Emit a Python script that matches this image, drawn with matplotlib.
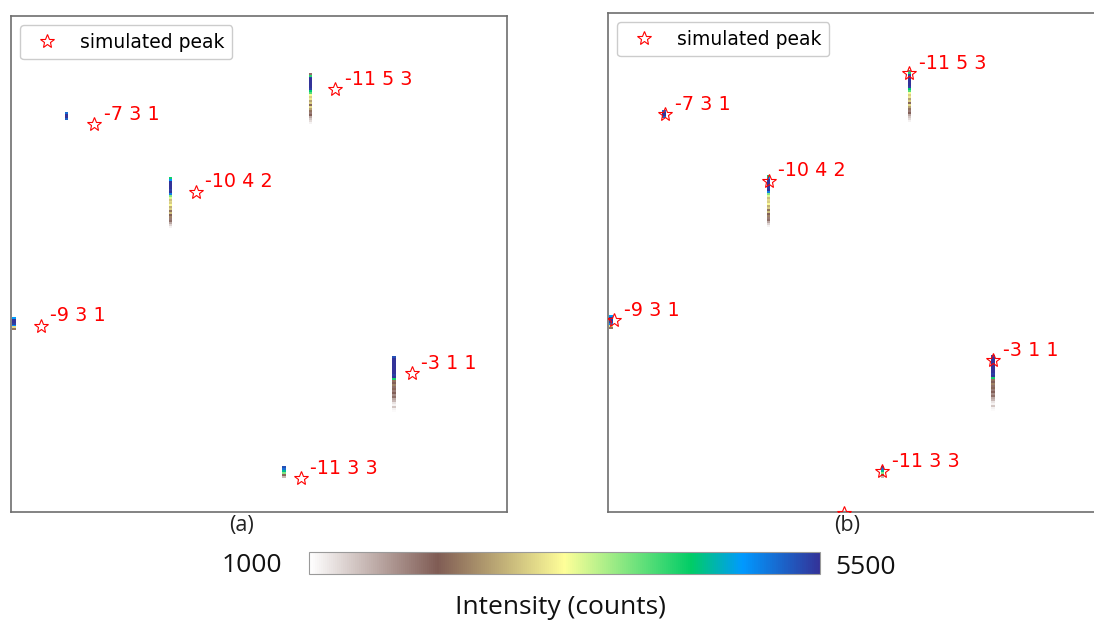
import numpy as np
import matplotlib
matplotlib.use("Agg")
import matplotlib.pyplot as plt
from matplotlib.colors import Normalize
from matplotlib.cm import ScalarMappable

# ---------------- data ----------------
peak_labels = ["-7 3 1", "-11 5 3", "-10 4 2", "-9 3 1", "-3 1 1", "-11 3 3"]

# simulated peak positions (detector pixel coords, y downward)
peaks_a_x = [84, 327, 186, 30, 404, 292]
peaks_a_y = [109, 74, 177, 312, 360, 466]
peaks_b_x = [57, 302, 161, 6, 386, 275, 236]
peaks_b_y = [101, 60, 168, 308, 348, 459, 501]
peaks_b_labels = peak_labels + [""]

# measured streaks: column x, top row y, intensities every 2 rows
streak_x = [56, 302, 161, 3, 386, 275]
streak_y0 = [97, 57, 162, 303, 343, 454]
streak_vals = [
    [5100, 5500, 5500, 5200],
    [2000, 4200, 5400, 5500, 5500, 5500, 5500, 5500, 5400, 4400, 4000, 3300, 2900,
     3100, 2600, 2900, 2200, 3000, 2600, 2300, 1900, 2100, 1600, 1400, 1250, 1100],
    [4300, 4800, 5500, 5500, 5500, 5500, 5400, 5500, 5000, 3800, 3400, 2800, 3000,
     2900, 3200, 2700, 2900, 2300, 2800, 2100, 2400, 1900, 2000, 1600, 1300, 1100],
    [4800, 5500, 5500, 5400, 4900, 3000, 2300],
    [5300, 5500, 5500, 5500, 5500, 5500, 5500, 5500, 5500, 5400, 5500, 4300, 2300,
     2100, 2400, 2000, 2200, 1900, 2100, 1800, 2000, 1600, 1500, 1200, 1100, 1400,
     1100, 1050],
    [5300, 5100, 4500, 3800, 2200, 1500],
]
vmin, vmax = 1000, 5500
panel_tags = ["(a)", "(b)"]
cbar_title = "Intensity (counts)"

# ---------------- plot ----------------
W, H = 1094, 623
fig = plt.figure(figsize=(W / 100, H / 100), dpi=100)
cmap = plt.get_cmap("terrain_r")
norm = Normalize(vmin=vmin, vmax=vmax)


def px_axes(x0, y0, w, h):
    return fig.add_axes([x0 / W, 1 - (y0 + h) / H, w / W, h / H])


ax_a = px_axes(11, 16, 496, 496)
ax_b = px_axes(608, 13, 499, 499)

step = 2
for ax, px, py, labs in [(ax_a, peaks_a_x, peaks_a_y, peak_labels),
                         (ax_b, peaks_b_x, peaks_b_y, peaks_b_labels)]:
    ax.set_xlim(0, 500)
    ax.set_ylim(500, 0)
    ax.set_xticks([])
    ax.set_yticks([])
    for s in ax.spines.values():
        s.set_color("#6e6e6e")
        s.set_linewidth(1.2)
    for sx, sy, vals in zip(streak_x, streak_y0, streak_vals):
        vals = np.asarray(vals)
        ys = sy + step * np.arange(len(vals))
        ax.bar(np.full(len(vals), sx), step, bottom=ys, width=3.6,
               color=cmap(norm(vals)), linewidth=0, zorder=2)
    ax.plot(px, py, linestyle="none", marker="*", markersize=10,
            markerfacecolor="none", markeredgecolor="red", markeredgewidth=0.8,
            label="simulated peak", zorder=3)
    for x, y, t in zip(px, py, labs):
        if t:
            ax.annotate(t, (x, y), xytext=(7, 3), textcoords="offset points",
                        va="baseline", ha="left", color="red", fontsize=13.8,
                        zorder=4)
    ax.legend(loc="upper left", fontsize=13.5, framealpha=1)

fig.text(241 / W, 1 - 526 / H, panel_tags[0], ha="center", va="center",
         fontsize=15.5, family="Open Sans", color="#222222")
fig.text(847 / W, 1 - 526 / H, panel_tags[1], ha="center", va="center",
         fontsize=15.5, family="Open Sans", color="#222222")

# colorbar
cax = px_axes(309, 552, 511, 22)
cb = fig.colorbar(ScalarMappable(norm=norm, cmap=cmap), cax=cax,
                  orientation="horizontal")
cb.set_ticks([])
cb.outline.set_edgecolor("#9a9a9a")
cb.outline.set_linewidth(0.8)
fig.text(282 / W, 1 - 565 / H, str(vmin), ha="right", va="center",
         fontsize=19, family="Open Sans", color="#111111")
fig.text(835 / W, 1 - 568 / H, str(vmax), ha="left", va="center",
         fontsize=19, family="Open Sans", color="#111111")
fig.text(560 / W, 1 - 607 / H, cbar_title, ha="center", va="center",
         fontsize=19, family="Open Sans", color="#111111")

fig.savefig("out.png", dpi=100)
